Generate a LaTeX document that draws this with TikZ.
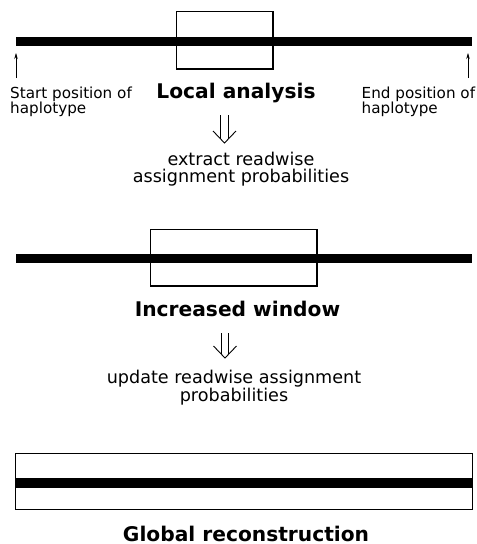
\documentclass[tikz,border=0pt]{standalone}
\usepackage{fontspec}
\setmainfont{DejaVu Sans}
\usetikzlibrary{arrows.meta}
\begin{document}
\begin{tikzpicture}[x=1pt,y=-1pt,
  bar/.style={line width=9.8pt, line cap=butt},
  win/.style={draw, line width=1.2pt},
  title/.style={font=\fontsize{20.2}{24}\bfseries\selectfont, anchor=base, inner sep=0pt},
  note/.style={font=\fontsize{15.2}{18}\selectfont, anchor=base west, inner sep=0pt},
  desc/.style={font=\fontsize{17.6}{21}\selectfont, anchor=base, inner sep=0pt},
  tick/.style={-{Stealth[length=6pt,width=3.5pt]}, line width=0.6pt},
  dbl/.style={line width=0.9pt, line join=miter}]
\useasboundingbox (0,0) rectangle (477,544);

% --- local analysis ---------------------------------------------------
\draw[win] (176.5,11.5) rectangle (273,69);
\coordinate (s1) at (16,41.5);
\coordinate (e1) at (472,41.5);
\draw[bar] (s1) -- (e1);

\node[note] (st1) at (10,98) {Start position of};
\node[note] (st2) at (10,113.5) {haplotype};
\node[note] (en1) at (361.5,98) {End position of};
\node[note] (en2) at (361.5,113.5) {haplotype};
\coordinate (sa0) at (16,78);
\coordinate (sa1) at (16,53);
\coordinate (ea0) at (468,78);
\coordinate (ea1) at (468,53);
\draw[tick] (sa0) -- (sa1);
\draw[tick] (ea0) -- (ea1);

\node[title] (local) at (236,98) {Local analysis};

% implication arrow (shifts are in canvas units, so positive = up)
\coordinate (d1) at (224.5,115);
\coordinate (d1tip) at (224.5,143);
\draw[dbl] ([xshift=-3.7pt]d1) -- ([xshift=-3.7pt,yshift=4pt]d1tip)
           ([xshift=3.7pt]d1) -- ([xshift=3.7pt,yshift=4pt]d1tip);
\draw[dbl] ([xshift=-11.5pt,yshift=12pt]d1tip) -- (d1tip) -- ([xshift=11.5pt,yshift=12pt]d1tip);

\node[desc] (ex1) at (241,165) {extract readwise};
\node[desc] (ex2) at (241,182.5) {assignment probabilities};

% --- increased window -------------------------------------------------
\draw[win] (150.5,229.5) rectangle (317,286);
\coordinate (s2) at (16,258.5);
\coordinate (e2) at (472,258.5);
\draw[bar] (s2) -- (e2);

\node[title] (incr) at (237.5,316.5) {Increased window};

\coordinate (d2) at (225,333);
\coordinate (d2tip) at (225,358);
\draw[dbl] ([xshift=-3.7pt]d2) -- ([xshift=-3.7pt,yshift=4pt]d2tip)
           ([xshift=3.7pt]d2) -- ([xshift=3.7pt,yshift=4pt]d2tip);
\draw[dbl] ([xshift=-11.5pt,yshift=12pt]d2tip) -- (d2tip) -- ([xshift=11.5pt,yshift=12pt]d2tip);

\node[desc] (up1) at (234,383) {update readwise assignment};
\node[desc] (up2) at (234,401) {probabilities};

% --- global reconstruction --------------------------------------------
\draw[win] (15.5,453.5) rectangle (472.5,509.5);
\coordinate (s3) at (16,483);
\coordinate (e3) at (472,483);
\draw[bar] (s3) -- (e3);

\node[title, text depth=0pt] (glob) at (246,541.5) {Global reconstruction};
\end{tikzpicture}
\end{document}
